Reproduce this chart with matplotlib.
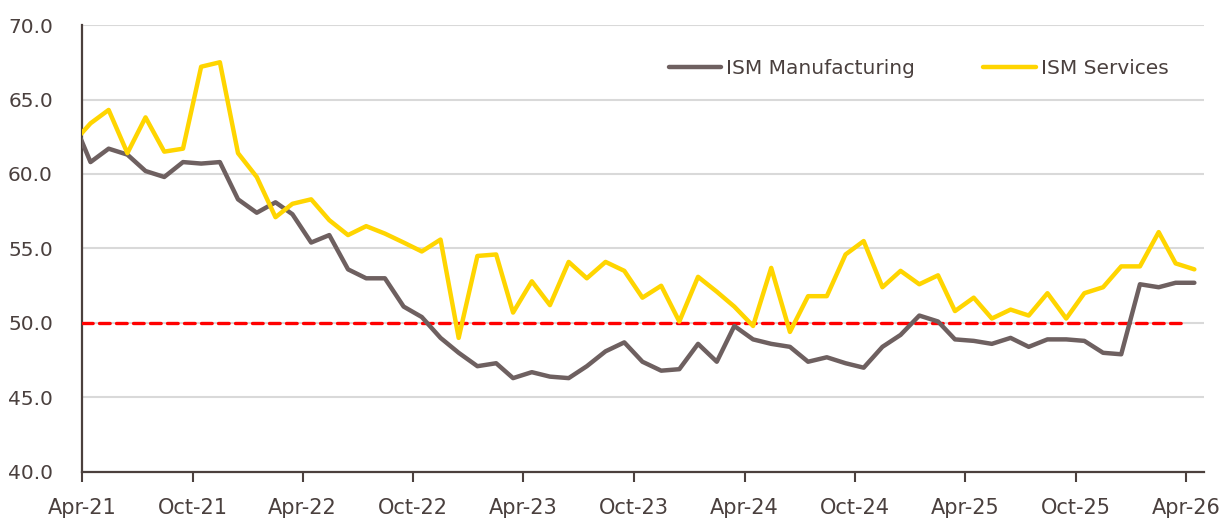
# ISM 制造业 / 服务业 PMI 走势图
import pandas as pd
import matplotlib
matplotlib.use('Agg')
import matplotlib.pyplot as plt
import matplotlib.dates as mdates

# 月度数据，Mar-21 到 Apr-26（第一个点被左轴截掉）
months = pd.date_range('2021-03-01', '2026-04-01', freq='MS')
manufacturing = [63.8,
                 60.8, 61.7, 61.3, 60.2, 59.8, 60.8, 60.7, 60.8, 58.3, 57.4, 58.1, 57.3,
                 55.4, 55.9, 53.6, 53.0, 53.0, 51.1, 50.4, 49.0, 48.0, 47.1, 47.3, 46.3,
                 46.7, 46.4, 46.3, 47.1, 48.1, 48.7, 47.4, 46.8, 46.9, 48.6, 47.4, 49.8,
                 48.9, 48.6, 48.4, 47.4, 47.7, 47.3, 47.0, 48.4, 49.2, 50.5, 50.1, 48.9,
                 48.8, 48.6, 49.0, 48.4, 48.9, 48.9, 48.8, 48.0, 47.9, 52.6, 52.4, 52.7,
                 52.7]
services = [62.0,
            63.4, 64.3, 61.4, 63.8, 61.5, 61.7, 67.2, 67.5, 61.4, 59.8, 57.1, 58.0,
            58.3, 56.9, 55.9, 56.5, 56.0, 55.4, 54.8, 55.6, 49.0, 54.5, 54.6, 50.7,
            52.8, 51.2, 54.1, 53.0, 54.1, 53.5, 51.7, 52.5, 50.1, 53.1, 52.1, 51.1,
            49.8, 53.7, 49.4, 51.8, 51.8, 54.6, 55.5, 52.4, 53.5, 52.6, 53.2, 50.8,
            51.7, 50.3, 50.9, 50.5, 52.0, 50.3, 52.0, 52.4, 53.8, 53.8, 56.1, 54.0,
            53.6]
series_names = ['ISM Manufacturing', 'ISM Services']
threshold = 50.0
tick_dates = pd.date_range('2021-04-01', '2026-04-01', freq='6MS')

text_color = '#4a403e'
axis_color = '#4b403d'

fig = plt.figure(figsize=(12.32, 5.22), dpi=100)
ax = fig.add_axes([0.0666, 0.0958, 0.9107, 0.8563])

# 数据点画在每月中间
x = months + pd.Timedelta(days=14)

ax.plot([tick_dates[0], tick_dates[-1]], [threshold, threshold], color='#ff0000',
        linewidth=2.4, dashes=(3.2, 1.9), dash_capstyle='round', zorder=3)
ax.plot(x, manufacturing, color='#6e6060', linewidth=3.2, label=series_names[0],
        solid_joinstyle='round', solid_capstyle='round', zorder=4)
ax.plot(x, services, color='#ffd500', linewidth=3.2, label=series_names[1],
        solid_joinstyle='round', solid_capstyle='round', zorder=5)

ax.set_xlim(pd.Timestamp('2021-04-01'), pd.Timestamp('2026-05-01'))
ax.set_ylim(40, 70)
ax.set_yticks([40, 45, 50, 55, 60, 65, 70])
ax.yaxis.set_major_formatter(matplotlib.ticker.FormatStrFormatter('%.1f'))
ax.set_xticks(tick_dates)
ax.xaxis.set_major_formatter(mdates.DateFormatter('%b-%y'))

ax.grid(axis='y', color='#d9d9d9', linewidth=1.5)
ax.set_axisbelow(True)
for s in ['top', 'right']:
    ax.spines[s].set_visible(False)
for s in ['left', 'bottom']:
    ax.spines[s].set_color(axis_color)
    ax.spines[s].set_linewidth(1.6)

ax.tick_params(axis='y', length=0, pad=21, labelsize=14.5, labelcolor=text_color)
ax.tick_params(axis='x', length=7, width=1.5, color=axis_color, pad=12,
               labelsize=15, labelcolor=text_color)

leg = ax.legend(loc='center', bbox_to_anchor=(0.7455, 0.902), ncol=2, frameon=False,
                fontsize=14.5, handlelength=2.6, handletextpad=0.25, columnspacing=3.4)
for t in leg.get_texts():
    t.set_color(text_color)

plt.savefig('out.png', dpi=100)
plt.close()
